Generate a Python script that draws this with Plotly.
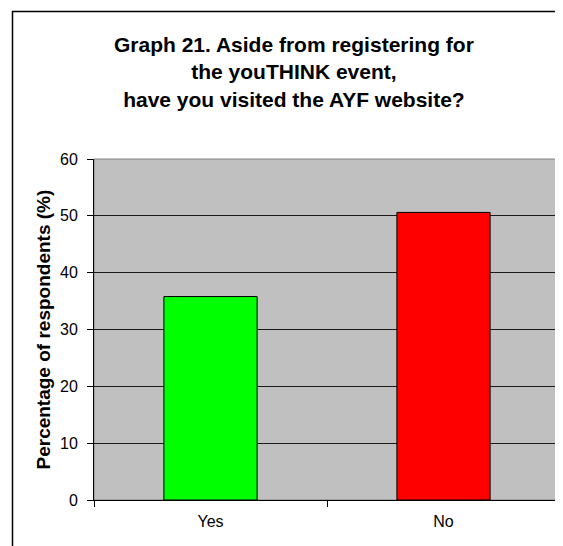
import plotly.graph_objects as go

categories = ["Yes", "No"]
values = [35.8, 50.6]
bar_colors = ["#00FF00", "#FF0000"]
title_lines = ["Graph 21. Aside from registering for", "the youTHINK event,", "have you visited the AYF website?"]
y_title = "Percentage of respondents (%)"
y_ticks = [0, 10, 20, 30, 40, 50, 60]

W, H = 563, 546
L, R, T, B = 86, 11, 151, 54
pw, ph = W - L - R, H - T - B


def px_x(p):
    return (p - L) / pw


def px_y(p):
    return (T + ph - p) / ph


fig = go.Figure(go.Bar(
    x=categories, y=values,
    marker=dict(color=bar_colors, line=dict(color="#000000", width=1)),
    width=0.4,
))

font_family = "Liberation Sans, Arial, sans-serif"

fig.update_layout(
    width=W, height=H,
    margin=dict(l=L, r=R, t=T, b=B),
    paper_bgcolor="#FFFFFF",
    plot_bgcolor="#C0C0C0",
    showlegend=False,
    font=dict(family=font_family, color="#000000", size=16),
    xaxis=dict(
        showline=True, linecolor="#000000", linewidth=1,
        ticks="outside", ticklen=6, tickcolor="#000000",
        tickson="boundaries", showgrid=False,
        tickfont=dict(size=16), ticklabelstandoff=7,
    ),
    yaxis=dict(
        range=[0, 60], tickvals=y_ticks,
        showline=True, linecolor="#000000", linewidth=1,
        ticks="outside", ticklen=6, tickcolor="#000000",
        showgrid=True, gridcolor="#1a1a1a", gridwidth=1,
        zeroline=False,
        tickfont=dict(size=16), ticklabelstandoff=6,
    ),
    annotations=[
        dict(text="<b>" + "<br>".join(title_lines) + "</b>",
             xref="paper", yref="paper", x=px_x(285.5), y=px_y(64),
             xanchor="center", yanchor="middle", showarrow=False,
             font=dict(family=font_family, size=21, color="#000000")),
        dict(text="<b>" + y_title + "</b>",
             xref="paper", yref="paper", x=px_x(35), y=0.5,
             xanchor="center", yanchor="middle", textangle=-90, showarrow=False,
             font=dict(family=font_family, size=19, color="#000000")),
    ],
    shapes=[
        dict(type="rect", xref="paper", yref="paper", x0=0, x1=1, y0=0, y1=1,
             line=dict(color="#808080", width=1), layer="below"),
        dict(type="rect", xref="paper", yref="paper",
             x0=px_x(4.5), x1=px_x(570), y0=px_y(560), y1=px_y(3.5),
             line=dict(color="#000000", width=1.5)),
    ],
)

fig.write_html("out.html")
